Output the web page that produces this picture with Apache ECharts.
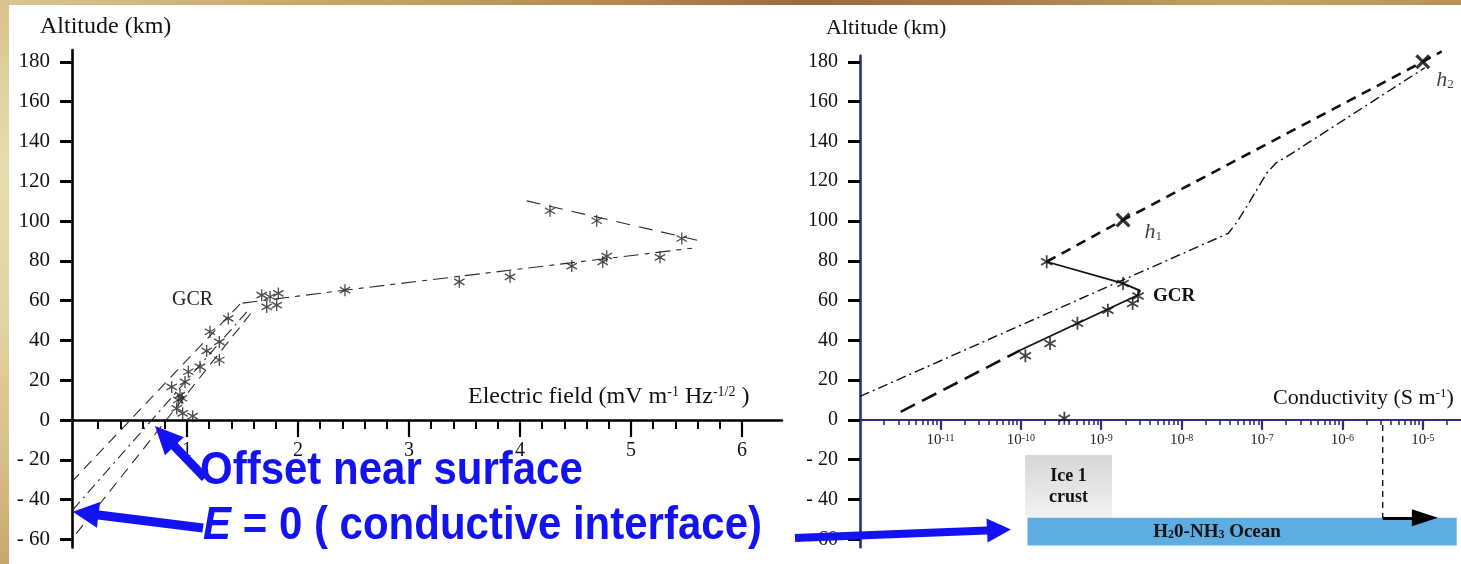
<!DOCTYPE html>
<html>
<head>
<meta charset="utf-8">
<title>Altitude profiles: electric field and conductivity</title>
<script src="https://cdn.jsdelivr.net/npm/echarts@6/dist/echarts.min.js"></script>
<style>
  html, body { margin: 0; padding: 0; width: 1461px; height: 564px; overflow: hidden; background: #fff; }
  #rimTop { position: absolute; left: 0; top: 0; width: 1461px; height: 5px;
    background: linear-gradient(90deg, #d9c690 0%, #c9a96b 20%, #b48a52 42%, #9a6a3c 55%, #a77c48 68%, #c4a265 85%, #b99158 100%); }
  #rimLeft { position: absolute; left: 0; top: 0; width: 9px; height: 564px;
    background: linear-gradient(180deg, #d8c48c 0%, #e8ddb0 30%, #e2d4a2 55%, #d9c08a 80%, #c9a66c 100%); }
  #chart { position: absolute; left: 0; top: 0; width: 1461px; height: 564px; }
</style>
</head>
<body>
<div id="rimTop"></div>
<div id="rimLeft"></div>
<div id="chart"></div>
<script>
// ---------- Left panel: electric field (mV m^-1 Hz^-1/2) vs altitude (km) ----------
const efStarE   = [1.673, 1.748, 1.823, 1.718, 1.808, 2.423, 1.372, 1.207, 1.291, 1.177, 1.291, 1.117, 1.012, 0.982, 0.862, 0.937, 0.955, 0.922, 0.907, 0.961, 1.051, 4.270, 4.691, 5.457, 3.453, 3.910, 4.466, 4.745, 4.781, 5.261];
const efStarAlt = [62.8, 62.0, 63.7, 56.9, 57.8, 65.3, 51.1, 44.4, 39.3, 34.8, 30.2, 26.8, 24.3, 19.2, 16.7, 12.6, 11.0, 10.1, 5.9, 3.4, 2.0, 105.2, 100.2, 91.3, 69.5, 72.0, 77.4, 79.5, 82.4, 81.8];
// upper branch above the field maximum
const efUpperE   = [4.06, 5.62];
const efUpperAlt = [110.2, 90.1];
// branch from the GCR knee up to the maximum
const efKneeE   = [1.50, 2.42, 5.55];
const efKneeAlt = [58.8, 65.3, 86.4];
// three fits below the knee, extrapolated to E = 0
const efFit1E = [1.477, -0.03], efFit1Alt = [58.3, -30.5];
const efFit2E = [1.538, -0.03], efFit2Alt = [54.4, -45.2];
const efFit3E = [1.574, -0.03], efFit3Alt = [53.6, -59.3];
const efTickLabels = [1, 2, 3, 4, 5, 6];

// ---------- Right panel: conductivity (S m^-1) vs altitude (km) ----------
const sigStar    = [1.14e-10, 2.31e-10, 5.06e-10, 1.21e-9, 2.46e-9, 2.87e-9, 1.87e-9, 2.10e-10, 3.48e-10];
const sigStarAlt = [32.2, 38.4, 48.6, 55.1, 58.5, 62.3, 68.6, 79.5, 0.8];
const sigUpper    = [2.10e-10, 1.87e-9, 1.0e-5, 1.72e-5];
const sigUpperAlt = [79.5, 100.5, 180.0, 185.2];
const sigSolid    = [2.10e-10, 1.87e-9, 3.04e-9, 2.87e-9, 9.8e-11];
const sigSolidAlt = [79.5, 68.6, 65.0, 62.8, 35.0];
const sigLower    = [3.21e-12, 9.8e-11];
const sigLowerAlt = [4.1, 35.0];
const sigModel    = [1.0e-12, 3.81e-8, 4.89e-8, 6.46e-8, 1.14e-7, 1.49e-7, 2.03e-7, 1.06e-5];
const sigModelAlt = [11.8, 93.8, 99.5, 107.2, 124.0, 129.1, 132.3, 177.0];
const hNames = ['1', '2'];
const hSig   = [1.87e-9, 1.0e-5];
const hAlt   = [100.5, 180.0];
const iceSig = [1.13e-10, 1.36e-9],  iceAlt = [-49.2, -17.6];
const oceanSig = [1.21e-10, 2.64e-5], oceanAlt = [-63.1, -49.2];
const onsetSig = 3.17e-6, onsetAlt = [-2.5, -49.2];
const arrowSig = [3.17e-6, 1.06e-5];
const condDecades = [-11, -10, -9, -8, -7, -6, -5];

const altTicks = [-60, -40, -20, 0, 20, 40, 60, 80, 100, 120, 140, 160, 180];

// ---------- helpers ----------
const SERIF = '"Liberation Serif", "Times New Roman", serif';
const SANS = '"Liberation Sans", Arial, sans-serif';
const BLUE = '#1212f2';
const NAVY = '#2b2d7c';
const ZERO_SHIFT = -127.4;   // lifts the horizontal axes from the grid bottom to altitude 0
const lg = v => Math.log10(v);
const pairs = (xs, ys) => xs.map((x, i) => [x, ys[i]]);
const lpairs = (xs, ys) => xs.map((x, i) => [lg(x), ys[i]]);
const fmtAlt = v => (v < 0 ? '- ' + Math.abs(v) : String(v));

const efMinor = [];
for (let i = 1; i <= 30; i++) { if (i % 5) efMinor.push(+(i * 0.2).toFixed(1)); }
const condMinor = [];
for (let d = -12; d <= -5; d++) {
  for (let k = 2; k <= 9; k++) { const v = d + Math.log10(k); if (v < -4.53) condMinor.push(v); }
}

const STAR_THIN = 'path://M9,1L11,1L11,19L9,19Z M1.706,6.366L2.706,4.634L18.294,13.634L17.294,15.366Z M2.706,15.366L1.706,13.634L17.294,4.634L18.294,6.366Z';
const STAR_BOLD = 'path://M8.8,1L11.2,1L11.2,19L8.8,19Z M1.606,6.539L2.806,4.461L18.394,13.461L17.194,15.539Z M2.806,15.539L1.606,13.461L17.194,4.461L18.394,6.539Z';
const CROSS = 'path://M2.505,4.767L4.767,2.505L17.495,15.233L15.233,17.495Z M4.767,17.495L2.505,15.233L15.233,2.505L17.495,4.767Z';

const leftLine = (xs, ys, dash) => ({
  type: 'line', xAxisIndex: 0, yAxisIndex: 0, data: pairs(xs, ys), symbol: 'none', silent: true,
  lineStyle: { color: '#2a2a2a', width: 1.1, type: dash }
});
const rightLine = (xs, ys, dash, width) => ({
  type: 'line', xAxisIndex: 2, yAxisIndex: 1, data: lpairs(xs, ys), symbol: 'none', silent: true, clip: false,
  lineStyle: { color: '#111', width: width, type: dash }
});

const chart = echarts.init(document.getElementById('chart'), null, { renderer: 'canvas' });

const option = {
  backgroundColor: 'transparent',
  animation: false,
  grid: [
    { left: 72, top: 50, width: 710, height: 497.5, outerBoundsMode: 'none' },
    { left: 860, top: 55.8, width: 601, height: 491.5, outerBoundsMode: 'none' }
  ],
  xAxis: [
    { gridIndex: 0, type: 'value', min: -0.036, max: 6.36, position: 'bottom', offset: ZERO_SHIFT,
      axisLine: { show: true, onZero: false, lineStyle: { color: '#000', width: 2.5 } },
      axisTick: { show: true, customValues: efTickLabels, length: 17, lineStyle: { color: '#000', width: 2.2 } },
      axisLabel: { show: true, customValues: efTickLabels, margin: 21, color: '#111', fontFamily: SERIF, fontSize: 20 },
      splitLine: { show: false } },
    { gridIndex: 0, type: 'value', min: -0.036, max: 6.36, position: 'bottom', offset: ZERO_SHIFT,
      axisLine: { show: false, onZero: false },
      axisTick: { show: true, customValues: efMinor, length: 9, lineStyle: { color: '#000', width: 2 } },
      axisLabel: { show: false }, splitLine: { show: false } },
    { gridIndex: 1, type: 'value', min: -12, max: -4.525, position: 'bottom', offset: ZERO_SHIFT,
      axisLine: { show: true, onZero: false, lineStyle: { color: NAVY, width: 2 } },
      axisTick: { show: true, customValues: condDecades, length: 10, lineStyle: { color: NAVY, width: 2.2 } },
      axisLabel: { show: true, customValues: condDecades, margin: 13,
        formatter: v => '{b|10}{e|-' + Math.abs(v) + '}',
        rich: {
          b: { fontFamily: SERIF, fontSize: 15, color: '#222' },
          e: { fontFamily: SERIF, fontSize: 10, color: '#222', verticalAlign: 'top' }
        } },
      splitLine: { show: false } },
    { gridIndex: 1, type: 'value', min: -12, max: -4.525, position: 'bottom', offset: ZERO_SHIFT,
      axisLine: { show: false, onZero: false },
      axisTick: { show: true, customValues: condMinor, length: 5, lineStyle: { color: NAVY, width: 1.6 } },
      axisLabel: { show: false }, splitLine: { show: false } }
  ],
  yAxis: [
    { gridIndex: 0, type: 'value', min: -64, max: 186,
      axisLine: { show: true, onZero: false, lineStyle: { color: '#000', width: 2.6 } },
      axisTick: { show: true, customValues: altTicks, length: 12, lineStyle: { color: '#000', width: 3 } },
      axisLabel: { show: true, customValues: altTicks, formatter: fmtAlt, margin: 22, color: '#111', fontFamily: SERIF, fontSize: 21 },
      splitLine: { show: false } },
    { gridIndex: 1, type: 'value', min: -64, max: 183,
      axisLine: { show: true, onZero: false, lineStyle: { color: NAVY, width: 2.6 } },
      axisTick: { show: true, customValues: altTicks, length: 12, lineStyle: { color: '#000', width: 3 } },
      axisLabel: { show: true, customValues: altTicks, formatter: fmtAlt, margin: 22, color: '#111', fontFamily: SERIF, fontSize: 20 },
      splitLine: { show: false } }
  ],
  series: [
    // ---- electric field panel ----
    leftLine(efUpperE, efUpperAlt, [14, 9]),
    leftLine(efKneeE, efKneeAlt, [15, 6, 5, 6]),
    leftLine(efFit1E, efFit1Alt, [11, 7]),
    leftLine(efFit2E, efFit2Alt, [11, 5, 2, 5]),
    leftLine(efFit3E, efFit3Alt, [11, 7]),
    { type: 'scatter', xAxisIndex: 0, yAxisIndex: 0, data: pairs(efStarE, efStarAlt), silent: true,
      symbol: STAR_THIN, symbolSize: 12, symbolKeepAspect: true, itemStyle: { color: '#222' } },

    // ---- conductivity panel ----
    rightLine(sigModel, sigModelAlt, [10, 4, 2, 4], 1.4),
    rightLine(sigUpper, sigUpperAlt, [10, 7], 2.6),
    rightLine(sigLower, sigLowerAlt, [16, 8], 2.6),
    rightLine(sigSolid, sigSolidAlt, 'solid', 1.8),
    { type: 'line', xAxisIndex: 2, yAxisIndex: 1, silent: true, symbol: 'none', z: 1,
      data: [[lg(onsetSig), onsetAlt[0]], [lg(onsetSig), onsetAlt[1]]],
      lineStyle: { color: '#111', width: 1.4, type: [6, 5] },
      markArea: {
        silent: true,
        data: [
          [ { name: 'Ice 1\ncrust', coord: [lg(iceSig[0]), iceAlt[1]],
              itemStyle: { color: { type: 'linear', x: 0, y: 0, x2: 0, y2: 1,
                colorStops: [{ offset: 0, color: '#d6d6d6' }, { offset: 1, color: '#f2f2f2' }] } },
              label: { show: true, position: 'inside', color: '#111', fontFamily: SERIF, fontWeight: 'bold', fontSize: 18, lineHeight: 21 } },
            { coord: [lg(iceSig[1]), iceAlt[0]] } ],
          [ { name: 'ocean', coord: [lg(oceanSig[0]), oceanAlt[1]],
              itemStyle: { color: '#5dade2' },
              label: { show: true, position: 'inside', offset: [-25, 0],
                formatter: '{n|H}{s|2}{n|0-NH}{s|3}{n| Ocean}',
                rich: {
                  n: { fontFamily: SERIF, fontWeight: 'bold', fontSize: 19, color: '#111' },
                  s: { fontFamily: SERIF, fontWeight: 'bold', fontSize: 12, color: '#111', verticalAlign: 'bottom' }
                } } },
            { coord: [lg(oceanSig[1]), oceanAlt[0]] } ]
        ]
      },
      markLine: {
        silent: true, symbol: ['none', 'triangle'], symbolSize: [17, 26],
        label: { show: false },
        lineStyle: { color: '#000', width: 3, type: 'solid' },
        data: [[ { coord: [lg(arrowSig[0]), onsetAlt[1]] }, { coord: [lg(arrowSig[1]), onsetAlt[1]] } ]]
      } },
    { type: 'scatter', xAxisIndex: 2, yAxisIndex: 1, data: lpairs(sigStar, sigStarAlt), silent: true,
      symbol: STAR_BOLD, symbolSize: 13, symbolKeepAspect: true, itemStyle: { color: '#111' } },
    { type: 'scatter', xAxisIndex: 2, yAxisIndex: 1, silent: true, symbol: CROSS, symbolSize: 15,
      itemStyle: { color: '#000' },
      data: hSig.map((s, i) => ({ value: [lg(s), hAlt[i]], name: hNames[i],
        label: { offset: i === 0 ? [10, 12] : [2, 18] } })),
      label: { show: true, position: 'right', distance: 4,
        formatter: p => '{h|h}{i|' + p.name + '}',
        rich: {
          h: { fontFamily: SERIF, fontStyle: 'italic', fontSize: 22, color: '#111' },
          i: { fontFamily: SERIF, fontSize: 13, color: '#111', verticalAlign: 'bottom' }
        } } }
  ],
  graphic: [
    { type: 'text', x: 40, y: 27, silent: true,
      style: { text: 'Altitude (km)', fontFamily: SERIF, fontSize: 24, fill: '#111', verticalAlign: 'middle', textVerticalAlign: 'middle' } },
    { type: 'text', x: 826, y: 28, silent: true,
      style: { text: 'Altitude (km)', fontFamily: SERIF, fontSize: 22, fill: '#111', verticalAlign: 'middle', textVerticalAlign: 'middle' } },
    { type: 'text', x: 468, y: 397, silent: true,
      style: { text: '{n|Electric field (mV m}{s|-1}{n| Hz}{s|-1/2}{n| )}', verticalAlign: 'middle', textVerticalAlign: 'middle',
        rich: { n: { fontFamily: SERIF, fontSize: 24, fill: '#111', color: '#111' },
                s: { fontFamily: SERIF, fontSize: 14, fill: '#111', color: '#111', verticalAlign: 'top' } } } },
    { type: 'text', x: 1273, y: 398, silent: true,
      style: { text: '{n|Conductivity (S m}{s|-1}{n|)}', verticalAlign: 'middle', textVerticalAlign: 'middle',
        rich: { n: { fontFamily: SERIF, fontSize: 22, fill: '#111', color: '#111' },
                s: { fontFamily: SERIF, fontSize: 13, fill: '#111', color: '#111', verticalAlign: 'top' } } } },
    { type: 'text', x: 172, y: 300, silent: true,
      style: { text: 'GCR', fontFamily: SERIF, fontSize: 20, fill: '#222', verticalAlign: 'middle', textVerticalAlign: 'middle' } },
    { type: 'text', x: 1153, y: 296, silent: true,
      style: { text: 'GCR', fontFamily: SERIF, fontWeight: 'bold', fontSize: 19, fill: '#111', verticalAlign: 'middle', textVerticalAlign: 'middle' } },

    // blue call-outs
    { type: 'polygon', silent: true, z: 20,
      shape: { points: [[208.2, 474.9], [177.6, 443.1], [183.8, 437.2], [155, 426], [165.0, 455.2], [171.2, 449.3], [201.8, 481.1]] },
      style: { fill: BLUE } },
    { type: 'polygon', silent: true, z: 20,
      shape: { points: [[203.6, 523.5], [99.1, 510.5], [100.1, 502.0], [72.7, 511.7], [96.9, 527.8], [97.9, 519.4], [202.4, 532.5]] },
      style: { fill: BLUE } },
    { type: 'polygon', silent: true, z: 20,
      shape: { points: [[794.8, 534.0], [986.8, 526.4], [986.5, 518.4], [1011, 529.5], [987.5, 542.4], [987.2, 534.4], [795.2, 542.0]] },
      style: { fill: BLUE } },
    { type: 'text', x: 200, y: 471, scaleY: 1.1, silent: true, z: 21,
      style: { text: 'Offset near surface', fontFamily: SANS, fontWeight: 'bold', fontSize: 42, fill: BLUE,
        verticalAlign: 'middle', textVerticalAlign: 'middle' } },
    { type: 'text', x: 203, y: 526, scaleY: 1.1, silent: true, z: 21,
      style: { text: '{i|E}{n| = 0 ( conductive interface)}', verticalAlign: 'middle', textVerticalAlign: 'middle',
        rich: { i: { fontFamily: SANS, fontWeight: 'bold', fontStyle: 'italic', fontSize: 42, fill: BLUE, color: BLUE },
                n: { fontFamily: SANS, fontWeight: 'bold', fontSize: 42, fill: BLUE, color: BLUE } } } }
  ]
};

chart.setOption(option);
</script>
</body>
</html>
